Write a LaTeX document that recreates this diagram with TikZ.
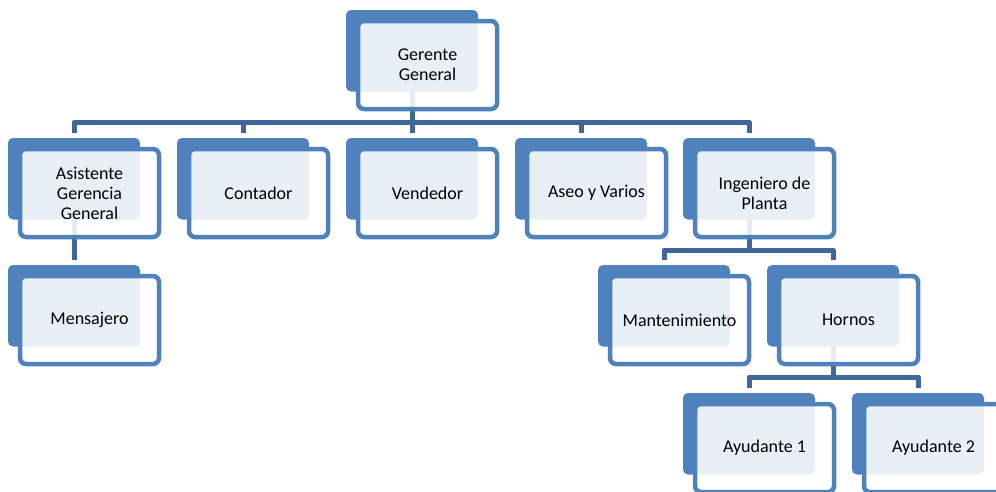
\documentclass[tikz,border=0pt]{standalone}
\usepackage{fontspec}
\setmainfont{Carlito}
\pgfdeclarelayer{bg}
\pgfsetlayers{bg,main}
\definecolor{accent}{RGB}{79,129,189}
\definecolor{connc}{RGB}{62,104,156}
\tikzset{
  darkbox/.style={fill=accent, draw=none, rounded corners=5pt,
    minimum width=132pt, minimum height=81.5pt, inner sep=0pt, outer sep=0pt, anchor=north west},
  frontbox/.style={draw=accent, line width=4.5pt, fill=white, fill opacity=0.88, text opacity=1,
    rounded corners=6pt, minimum width=139pt, minimum height=88pt, inner sep=0pt, outer sep=0pt,
    align=center, font=\fontsize{18}{20}\selectfont, anchor=north west},
  conn/.style={draw=connc, line width=5pt, line join=round}
}
\newcommand\orgunit[4]{%
  \node[darkbox] (#1) at (#2,#3) {};
  \node[frontbox] (#1f) at ([xshift=12pt,yshift=-11pt]#1.north west) {#4};}
\begin{document}
\begin{tikzpicture}[x=1pt,y=-1pt]
\useasboundingbox (0,0) rectangle (996,491);
\clip (0,0) rectangle (996,491);
\orgunit{gg}{346}{10}{Gerente\\General}
\orgunit{asi}{8}{138}{Asistente\\Gerencia\\General}
\orgunit{con}{177}{138}{Contador}
\orgunit{ven}{346}{138}{Vendedor}
\orgunit{ase}{515}{138}{Aseo y Varios}
\orgunit{ing}{683}{138}{Ingeniero de\\Planta}
\orgunit{men}{8}{265}{Mensajero}
\orgunit{man}{598}{265}{Mantenimiento}
\orgunit{hor}{767}{265}{Hornos}
\orgunit{ay1}{683}{393}{Ayudante 1}
\orgunit{ay2}{852}{393}{Ayudante 2}
\begin{pgfonlayer}{bg}
\fill[white] (0,0) rectangle (996,491);
\coordinate (bus1) at ([yshift=-112pt]gg.north);
\draw[conn] (gg.center) -- (bus1);
\draw[conn] ([yshift=5pt]asi.north) -- (asi.north |- bus1) -- (ing.north |- bus1) -- ([yshift=5pt]ing.north);
\foreach \n in {con,ven,ase} \draw[conn] (\n.north |- bus1) -- ([yshift=5pt]\n.north);
\draw[conn] (asi.center) -- ([yshift=5pt]men.north);
\coordinate (bus2) at ([yshift=-112pt]ing.north);
\draw[conn] (ing.center) -- (bus2);
\draw[conn] ([yshift=5pt]man.north) -- (man.north |- bus2) -- (hor.north |- bus2) -- ([yshift=5pt]hor.north);
\coordinate (bus3) at ([yshift=-112pt]hor.north);
\draw[conn] (hor.center) -- (bus3);
\draw[conn] ([yshift=5pt]ay1.north) -- (ay1.north |- bus3) -- (ay2.north |- bus3) -- ([yshift=5pt]ay2.north);
\end{pgfonlayer}
\end{tikzpicture}
\end{document}
